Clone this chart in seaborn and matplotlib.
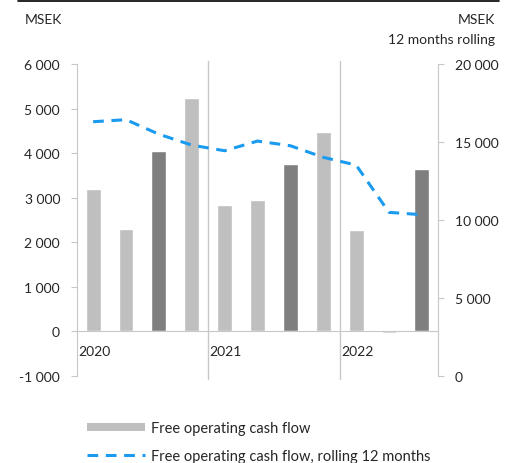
import numpy as np
import pandas as pd
import matplotlib
matplotlib.use("Agg")
import matplotlib.pyplot as plt
import seaborn as sns
from matplotlib.lines import Line2D
from matplotlib.patches import Patch
from matplotlib.ticker import FuncFormatter, FixedLocator

# ── Data ──────────────────────────────────────────────────────────────────────
quarters = ["2020Q1", "2020Q2", "2020Q3", "2020Q4",
            "2021Q1", "2021Q2", "2021Q3", "2021Q4",
            "2022Q1", "2022Q2", "2022Q3"]
shade = ["light", "light", "dark", "light",
         "light", "light", "dark", "light",
         "light", "light", "dark"]
fcf = [3200, 2290, 4050, 5230, 2840, 2940, 3760, 4470, 2280, -45, 3650]
fcf_rolling = [16300, 16430, 15500, 14800, 14440, 15060, 14760, 14020,
               13520, 10490, 10340]
years = ["2020", "2021", "2022"]
year_start = [0, 4, 8]

left_ticks = [-1000, 0, 1000, 2000, 3000, 4000, 5000, 6000]
right_ticks = [0, 5000, 10000, 15000, 20000]

LIGHT = "#BFBFBF"
DARK = "#7F7F7F"
BLUE = "#1A9BF0"
AXIS = "#C8C8C8"

df = pd.DataFrame({"quarter": quarters, "shade": shade, "fcf": fcf})


def space_thousands(v, pos):
    return f"{int(v):,}".replace(",", " ")


# ── Figure ────────────────────────────────────────────────────────────────────
sns.set_style("white")
plt.rcParams["font.family"] = ["Lato", "DejaVu Sans"]
plt.rcParams["font.size"] = 10

fig = plt.figure(figsize=(5.07, 4.64), dpi=100)
ax = fig.add_axes([0.1513, 0.1875, 0.7132, 0.6724])

sns.barplot(data=df, x="quarter", y="fcf", hue="shade", order=quarters,
            palette={"light": LIGHT, "dark": DARK}, dodge=False,
            width=0.45, legend=False, ax=ax)
ax.set_xlim(-0.5, len(quarters) - 0.5)
ax.set_ylim(-1000, 6000)
ax.set_xlabel("")
ax.set_ylabel("")

ax.yaxis.set_major_locator(FixedLocator(left_ticks))
ax.yaxis.set_major_formatter(FuncFormatter(space_thousands))
ax.tick_params(axis="y", direction="out", length=4, color=AXIS, labelsize=10, pad=8)

# x axis sits on zero with small category ticks
ax.spines["bottom"].set_position(("data", 0))
ax.spines["bottom"].set_color(AXIS)
ax.spines["left"].set_color(AXIS)
ax.spines["top"].set_visible(False)
ax.spines["right"].set_visible(False)
ax.set_xticks([])
ax.set_xticks(np.arange(-0.5, len(quarters), 1.0), minor=True)
ax.tick_params(axis="x", which="minor", direction="out", length=5, color=AXIS)

# year separators and labels
for yr, start in zip(years, year_start):
    if start > 0:
        ax.axvline(start - 0.5, ymin=-0.01, ymax=1.01, color=AXIS, lw=1, clip_on=False)
    ax.text(start - 0.46, -430, yr, ha="left", va="center", fontsize=10)

# rolling line on the right axis
ax2 = ax.twinx()
sns.lineplot(x=np.arange(len(quarters)), y=fcf_rolling, ax=ax2, color=BLUE,
             linewidth=2.2, linestyle=(0, (3.5, 2.5)))
ax2.set_ylim(0, 20000)
ax2.yaxis.set_major_locator(FixedLocator(right_ticks))
ax2.yaxis.set_major_formatter(FuncFormatter(space_thousands))
ax2.tick_params(axis="y", direction="out", length=4, color=AXIS, labelsize=10, pad=8)
for s in ["left", "top", "bottom"]:
    ax2.spines[s].set_visible(False)
ax2.spines["right"].set_color(AXIS)
ax2.set_xlim(-0.5, len(quarters) - 0.5)

# header
fig.add_artist(Line2D([18 / 507, 499 / 507], [1 - 1.5 / 464, 1 - 1.5 / 464],
                      color="black", lw=1.2))
fig.text(25 / 507, 1 - 20 / 464, "MSEK", ha="left", va="center", fontsize=10)
fig.text(495 / 507, 1 - 20 / 464, "MSEK", ha="right", va="center", fontsize=10)
fig.text(495 / 507, 1 - 40 / 464, "12 months rolling", ha="right", va="center", fontsize=10)

# legend
handles = [Patch(facecolor=LIGHT, edgecolor="none"),
           Line2D([], [], color=BLUE, lw=2.2, linestyle=(0, (3.5, 2.5)))]
labels = ["Free operating cash flow", "Free operating cash flow, rolling 12 months"]
fig.legend(handles, labels, loc="upper left", bbox_to_anchor=(74 / 507, 1 - 409 / 464),
           frameon=False, fontsize=10.5, handlelength=4.0, handleheight=0.45,
           handletextpad=0.4, labelspacing=0.95)

fig.savefig("out.png", dpi=100)
